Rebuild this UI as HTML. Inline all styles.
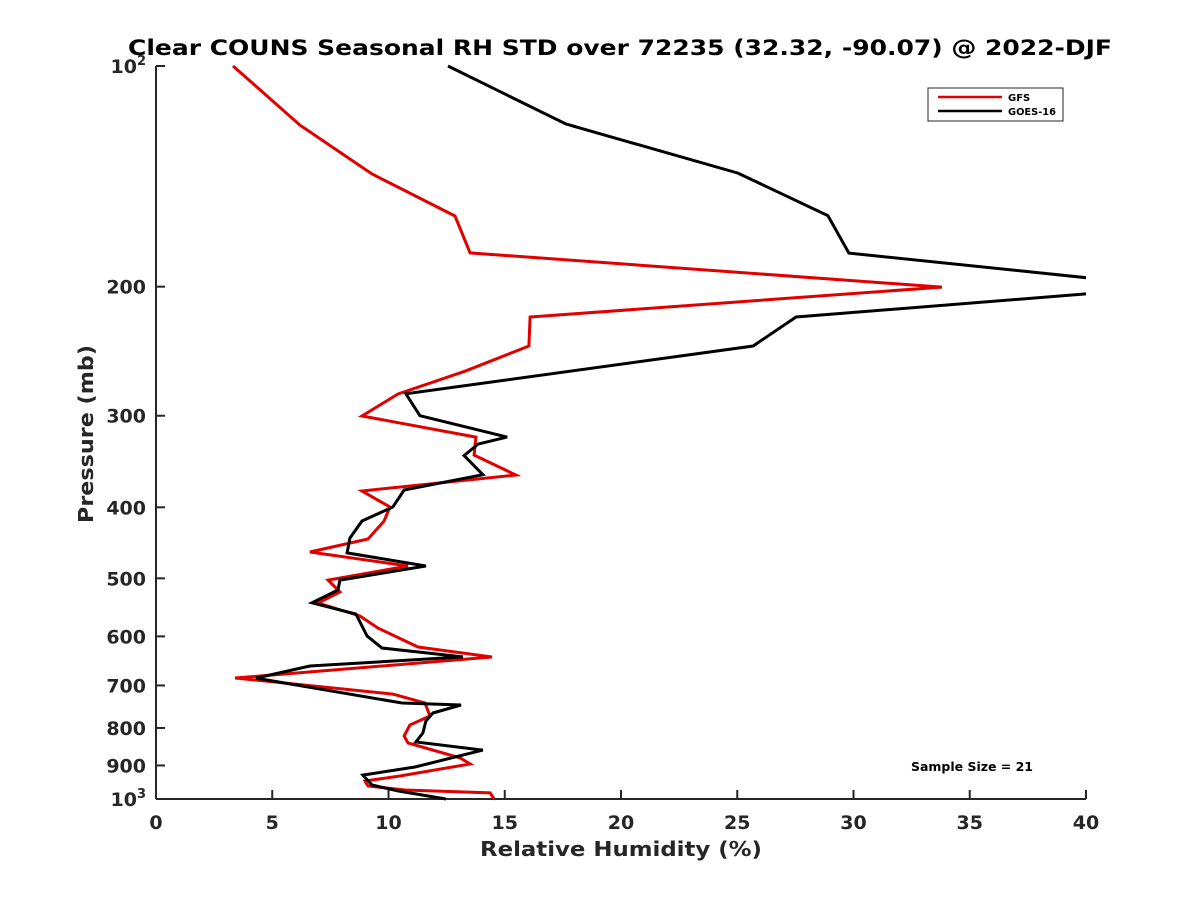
<!DOCTYPE html>
<html><head><meta charset="utf-8"><style>
body{margin:0;background:#fff;}
svg{display:block;font-family:"DejaVu Sans","Liberation Sans",sans-serif;}
</style></head><body>
<svg id="chart" width="1200" height="900">
<defs><clipPath id="plotclip"><rect x="156" y="60" width="930" height="745"/></clipPath></defs>
<rect width="1200" height="900" fill="#fff"/>
<text x="620" y="55" text-anchor="middle" font-size="21" font-weight="bold" fill="#000" textLength="984" lengthAdjust="spacingAndGlyphs">Clear COUNS Seasonal RH STD over 72235 (32.32, -90.07) @ 2022-DJF</text>
<g id="axes"></g>
<g id="series" clip-path="url(#plotclip)"></g>
<text x="621" y="856" text-anchor="middle" font-size="20" font-weight="bold" fill="#262626" textLength="282" lengthAdjust="spacingAndGlyphs">Relative Humidity (%)</text>
<text transform="translate(93,434) rotate(-90)" text-anchor="middle" font-size="20" font-weight="bold" fill="#262626" textLength="178" lengthAdjust="spacingAndGlyphs">Pressure (mb)</text>
<g>
<rect x="928" y="88" width="135" height="33" fill="#fff" stroke="#262626" stroke-width="1"/>
<line x1="938" y1="97" x2="1002" y2="97" stroke="#e00000" stroke-width="2.5"/>
<text x="1008" y="101" font-size="10" font-weight="bold" fill="#000">GFS</text>
<line x1="938" y1="111" x2="1002" y2="111" stroke="#000" stroke-width="2.5"/>
<text x="1008" y="115" font-size="10" font-weight="bold" fill="#000" textLength="48" lengthAdjust="spacingAndGlyphs">GOES-16</text>
</g>
<text x="911" y="771" font-size="12" font-weight="bold" fill="#000" textLength="122" lengthAdjust="spacingAndGlyphs">Sample Size = 21</text>
</svg>
<script>
const xTicks=[0,5,10,15,20,25,30,35,40];
const yTicks=[100,200,300,400,500,600,700,800,900,1000];
const yTickLabels=["10|2","200","300","400","500","600","700","800","900","10|3"];
const gfsP=[100,120.4,140.4,160.2,179.9,200.3,220,241,260.8,280.2,300.3,320.8,339.5,361.4,380,399.6,417.6,441.8,460.3,481,502.8,521.9,540.3,562.8,584.5,620.4,640.2,683.9,719.3,739.6,770.5,792.5,820.4,838.7,879,896,930.3,945,960,972,981,1000];
const gfsRH=[3.31,6.19,9.29,12.86,13.51,33.8,16.09,16.04,13.29,10.41,8.86,13.76,13.68,15.48,8.86,10.06,9.81,9.12,6.62,10.84,7.4,7.91,6.97,8.77,9.55,11.27,14.45,3.4,10.19,11.57,11.78,10.92,10.67,10.84,13.08,13.51,10.49,8.99,9.12,10.71,14.37,14.54];
const goesP=[100,120,140,160,180,195.9,203.4,220,241,280,300,320.8,328,340,361,378.8,399.6,417.6,440.6,461.6,481,502.8,518.6,540,559.3,599.2,622.3,640,658.6,684,739.6,744.3,763.3,782.6,812.8,836,857.5,904.4,927.6,957,975,1000];
const goesRH=[12.56,17.63,25.03,28.9,29.8,41,41,27.53,25.68,10.75,11.35,15.1,13.85,13.25,14.06,10.67,10.19,8.86,8.34,8.22,11.61,7.91,7.83,6.71,8.6,9.08,9.72,13.2,6.62,4.3,10.58,13.12,11.91,11.61,11.48,11.18,14.06,11.14,8.9,9.29,10.4,12.47];
const L=156,R=1086,T=66,B=799;
const xs=v=>L+(v-0)/(40-0)*(R-L);
const ys=p=>T+(Math.log10(p)-2)/(3-2)*(B-T);
const NS="http://www.w3.org/2000/svg";
const ax=document.getElementById('axes');
function mk(tag,attrs,parent){const e=document.createElementNS(NS,tag);for(const k in attrs)e.setAttribute(k,attrs[k]);parent.appendChild(e);return e;}
const xl=mk('line',{x1:L,y1:B,x2:R,y2:B,stroke:'#262626','stroke-width':2},ax);


const yl=mk('line',{x1:L,y1:T,x2:L,y2:B,stroke:'#262626','stroke-width':2},ax);


xTicks.forEach(v=>{const x=xs(v);
 mk('line',{x1:x,y1:B,x2:x,y2:B-9,stroke:'#262626','stroke-width':2},ax);
 const t=mk('text',{x:x,y:829,'text-anchor':'middle','font-size':19,'font-weight':'bold',fill:'#262626'},ax);
 t.textContent=v;
 
 
});
yTicks.forEach((p,i)=>{const y=ys(p);
 mk('line',{x1:L,y1:y,x2:L+9,y2:y,stroke:'#262626','stroke-width':2},ax);
 const t=mk('text',{x:146,y:y+7,'text-anchor':'end','font-size':19,'font-weight':'bold',fill:'#262626'},ax);
 const parts=yTickLabels[i].split('|');
 if(parts.length>1){
  const a=mk('tspan',{},t);a.textContent=parts[0];
  const b=mk('tspan',{dy:-8,'font-size':13},t);b.textContent=parts[1];
 } else t.textContent=parts[0];
 
 
});
const sg=document.getElementById('series');
function line(P,V,color,name){
 const d=P.map((p,i)=>(i?'L':'M')+xs(V[i]).toFixed(1)+','+ys(p).toFixed(1)).join(' ');
 const e=mk('path',{d:d,fill:'none',stroke:color,'stroke-width':3,'stroke-linejoin':'miter'},sg);
 
 
}
line(gfsP,gfsRH,'#e00000','gfs-line');
line(goesP,goesRH,'#000','goes16-line');
</script>
</body></html>
